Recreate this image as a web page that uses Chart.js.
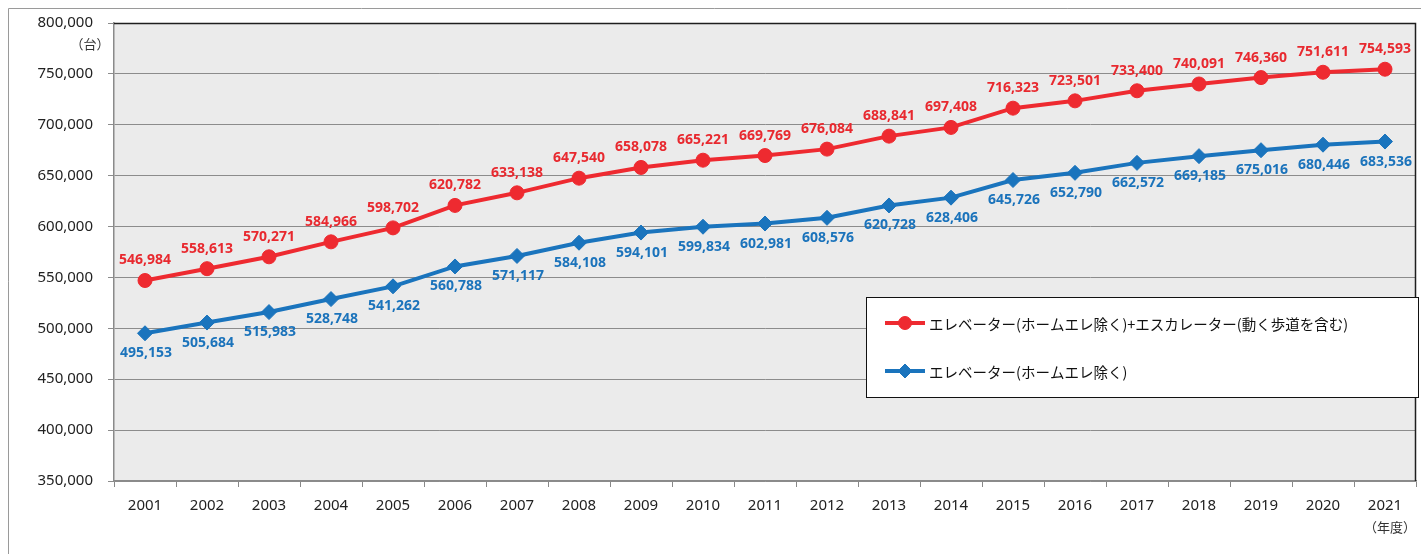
<!DOCTYPE html>
<html>
<head>
<meta charset="utf-8">
<script src="https://cdn.jsdelivr.net/npm/chart.js@4.4.0/dist/chart.umd.min.js"></script>
<style>
  html, body { margin: 0; padding: 0; background: #ffffff; }
  #wrap { position: relative; width: 1421px; height: 554px; }
  canvas { display: block; }
</style>
</head>
<body>
<div id="wrap"><canvas id="c" width="1421" height="554"></canvas></div>
<script>
// ---- Data ----
const years = ['2001','2002','2003','2004','2005','2006','2007','2008','2009','2010','2011','2012','2013','2014','2015','2016','2017','2018','2019','2020','2021'];
const totalValues = [546984, 558613, 570271, 584966, 598702, 620782, 633138, 647540, 658078, 665221, 669769, 676084, 688841, 697408, 716323, 723501, 733400, 740091, 746360, 751611, 754593];
const elevatorValues = [495153, 505684, 515983, 528748, 541262, 560788, 571117, 584108, 594101, 599834, 602981, 608576, 620728, 628406, 645726, 652790, 662572, 669185, 675016, 680446, 683536];
const seriesNames = ['エレベーター(ホームエレ除く)+エスカレーター(動く歩道を含む)', 'エレベーター(ホームエレ除く)'];
const yMin = 350000;
const yMax = 800000;
const yStep = 50000;
const yUnit = '（台）';
const xUnit = '（年度）';

const RED = '#ee2a30';
const BLUE = '#1a74bd';
const RED_TXT = '#e8292f';
const BLUE_TXT = '#1b73bb';
const NUM_FONT = "'Noto Sans', 'DejaVu Sans', sans-serif";
const JP_FONT = "'Noto Sans CJK JP', 'Noto Sans', sans-serif";

function fmt(v) { return v.toString().replace(/\B(?=(\d{3})+(?!\d))/g, ','); }

const framePlugin = {
  id: 'frame',
  beforeDraw(chart) {
    const ctx = chart.ctx, a = chart.chartArea;
    ctx.save();
    ctx.strokeStyle = '#9a9a9a';
    ctx.lineWidth = 1;
    ctx.beginPath();
    ctx.moveTo(8.5, 554);
    ctx.lineTo(8.5, 8.5);
    ctx.lineTo(1421, 8.5);
    ctx.stroke();
    ctx.fillStyle = '#ebebeb';
    ctx.fillRect(a.left, a.top, a.right - a.left, a.bottom - a.top);
    ctx.restore();
  },
  beforeDatasetsDraw(chart) {
    const ctx = chart.ctx, a = chart.chartArea;
    ctx.save();
    ctx.strokeStyle = '#1e1e1e';
    ctx.lineWidth = 1.5;
    ctx.beginPath();
    ctx.moveTo(a.left, a.top + 0.5);
    ctx.lineTo(a.right - 0.5, a.top + 0.5);
    ctx.lineTo(a.right - 0.5, a.bottom);
    ctx.stroke();
    ctx.restore();
  },
  afterDatasetsDraw(chart) {
    const ctx = chart.ctx;
    ctx.save();
    ctx.textAlign = 'center';
    ctx.textBaseline = 'middle';
    ctx.font = 'bold 14px ' + NUM_FONT;
    chart.data.datasets.forEach((ds, di) => {
      const meta = chart.getDatasetMeta(di);
      meta.data.forEach((pt, i) => {
        const v = ds.data[i];
        if (di === 0) {
          ctx.fillStyle = RED_TXT;
          ctx.fillText(fmt(v), pt.x, pt.y - 20);
        } else {
          ctx.fillStyle = BLUE_TXT;
          ctx.fillText(fmt(v), pt.x + 1, pt.y + 20);
        }
      });
    });
    ctx.restore();
  },
  afterDraw(chart) {
    const ctx = chart.ctx;
    ctx.save();
    ctx.fillStyle = '#333';
    ctx.font = '13px ' + JP_FONT;
    ctx.textAlign = 'center';
    ctx.textBaseline = 'middle';
    ctx.fillText(yUnit, 90, 44);
    ctx.fillText(xUnit, 1390, 527);

    const bx = 866.5, by = 297.5, bw = 552, bh = 100;
    ctx.fillStyle = '#ffffff';
    ctx.fillRect(bx, by, bw, bh);
    ctx.strokeStyle = '#111';
    ctx.lineWidth = 1;
    ctx.strokeRect(bx, by, bw, bh);

    const items = [
      { y: 323, color: RED, style: 'circle', radius: 6.5, name: seriesNames[0] },
      { y: 371, color: BLUE, style: 'rectRot', radius: 7, name: seriesNames[1] }
    ];
    items.forEach(it => {
      ctx.strokeStyle = it.color;
      ctx.lineWidth = 4;
      ctx.beginPath();
      ctx.moveTo(885, it.y);
      ctx.lineTo(925, it.y);
      ctx.stroke();
      ctx.fillStyle = it.color;
      ctx.strokeStyle = it.color;
      ctx.lineWidth = 1;
      Chart.helpers.drawPoint(ctx, { pointStyle: it.style, radius: it.radius, borderWidth: 1, rotation: 0 }, 905, it.y);
      ctx.fillStyle = '#111';
      ctx.font = '14.5px ' + JP_FONT;
      ctx.textAlign = 'left';
      ctx.textBaseline = 'middle';
      ctx.fillText(it.name, 929, it.y + 1);
    });
    ctx.restore();
  }
};

new Chart(document.getElementById('c'), {
  type: 'line',
  data: {
    labels: years,
    datasets: [
      {
        label: seriesNames[0],
        data: totalValues,
        borderColor: RED,
        backgroundColor: RED,
        borderWidth: 4,
        pointStyle: 'circle',
        pointRadius: 7,
        pointHoverRadius: 7,
        pointBackgroundColor: RED,
        pointBorderColor: RED,
        pointBorderWidth: 1,
        tension: 0,
        fill: false
      },
      {
        label: seriesNames[1],
        data: elevatorValues,
        borderColor: BLUE,
        backgroundColor: BLUE,
        borderWidth: 4,
        pointStyle: 'rectRot',
        pointRadius: 7.5,
        pointHoverRadius: 7.5,
        pointBackgroundColor: BLUE,
        pointBorderColor: BLUE,
        pointBorderWidth: 1,
        tension: 0,
        fill: false
      }
    ]
  },
  options: {
    responsive: false,
    devicePixelRatio: 1,
    animation: false,
    events: [],
    layout: { autoPadding: false, padding: { top: 23, right: 5, left: 0, bottom: 33 } },
    plugins: {
      legend: { display: false },
      tooltip: { enabled: false },
      title: { display: false }
    },
    scales: {
      x: {
        type: 'category',
        offset: true,
        grid: {
          offset: true,
          drawOnChartArea: false,
          drawTicks: true,
          tickLength: 6,
          color: '#888888',
          lineWidth: 1
        },
        border: { color: '#8a8a8a', width: 1.5 },
        ticks: {
          color: '#222',
          font: { family: NUM_FONT, size: 15 },
          padding: 10,
          maxRotation: 0,
          autoSkip: false
        },
        afterFit(scale) {
          scale.height = 40;
          scale.paddingLeft = 0;
          scale.paddingRight = 0;
        }
      },
      y: {
        min: yMin,
        max: yMax,
        grid: {
          color: '#8c8c8c',
          lineWidth: 1,
          tickLength: 6,
          drawTicks: true
        },
        border: { color: '#8a8a8a', width: 1.5 },
        ticks: {
          stepSize: yStep,
          color: '#222',
          font: { family: NUM_FONT, size: 15 },
          padding: 15,
          callback: (v) => fmt(v)
        },
        afterFit(scale) {
          scale.width = 114;
          scale.paddingTop = 0;
          scale.paddingBottom = 0;
        }
      }
    }
  },
  plugins: [framePlugin]
});
</script>
</body>
</html>
